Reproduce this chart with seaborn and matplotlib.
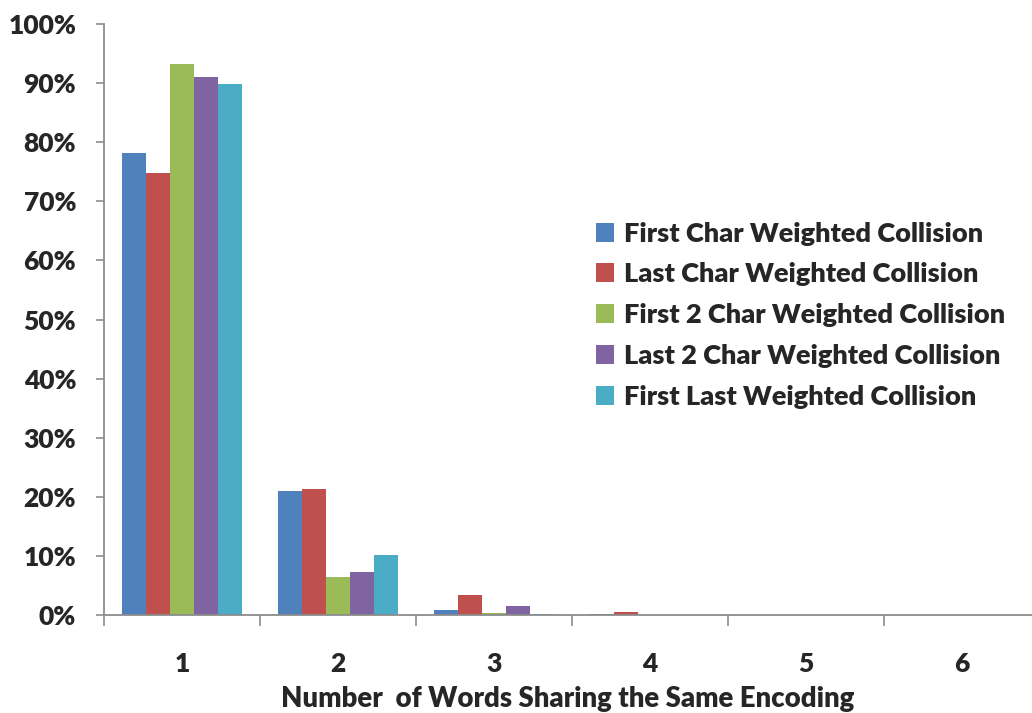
import matplotlib
matplotlib.use("Agg")
import matplotlib.pyplot as plt
import seaborn as sns
import pandas as pd
import numpy as np
from matplotlib.ticker import FixedLocator, PercentFormatter

# Share of words (%) by how many words share the same encoding
groups = ["1", "2", "3", "4", "5", "6"]
first_char = [78.2, 21.0, 0.8, 0.15, 0.0, 0.0]
last_char = [74.8, 21.3, 3.4, 0.45, 0.0, 0.05]
first_2_char = [93.2, 6.4, 0.3, 0.0, 0.0, 0.0]
last_2_char = [91.0, 7.3, 1.6, 0.0, 0.0, 0.0]
first_last = [89.8, 10.2, 0.15, 0.0, 0.0, 0.0]

series_names = [
    "First Char Weighted Collision",
    "Last Char Weighted Collision",
    "First 2 Char Weighted Collision",
    "Last 2 Char Weighted Collision",
    "First Last Weighted Collision",
]
series_values = [first_char, last_char, first_2_char, last_2_char, first_last]
palette = ["#4F81BD", "#C0504D", "#9BBB59", "#8064A2", "#4BACC6"]

rows = []
for name, vals in zip(series_names, series_values):
    for g, v in zip(groups, vals):
        rows.append({"group": g, "method": name, "share": v})
df = pd.DataFrame(rows)

sns.set_theme(style="white")
plt.rcParams["font.family"] = ["Lato", "DejaVu Sans"]
plt.rcParams["font.weight"] = "bold"

fig = plt.figure(figsize=(10.32, 7.13), dpi=100)
ax = fig.add_axes([104 / 1032, 98 / 713, 928 / 1032, 591 / 713])

sns.barplot(data=df, x="group", y="share", hue="method", hue_order=series_names,
            palette=palette, width=0.77, saturation=1, ax=ax, linewidth=0,
            errorbar=None)

ax.set_ylim(0, 100)
ax.set_xlim(-0.5, -0.5 + 928 / 156)
ax.yaxis.set_major_locator(FixedLocator(np.arange(0, 101, 10)))
ax.yaxis.set_major_formatter(PercentFormatter(decimals=0))

spine_color = "#8C8C8C"
for side in ["top", "right"]:
    ax.spines[side].set_visible(False)
for side in ["left", "bottom"]:
    ax.spines[side].set_color(spine_color)
    ax.spines[side].set_linewidth(1.3)

ax.tick_params(axis="y", which="major", direction="out", length=6, width=1.2,
               color=spine_color, left=True, pad=14, labelsize=19)
ax.tick_params(axis="x", which="major", length=0, pad=27, labelsize=19)
ax.xaxis.set_minor_locator(FixedLocator(np.arange(-0.5, 6.0, 1.0)))
ax.tick_params(axis="x", which="minor", direction="out", length=8, width=1.2,
               color=spine_color, bottom=True)
for lab in ax.get_xticklabels() + ax.get_yticklabels():
    lab.set_fontweight("heavy")

ax.set_ylabel("")
ax.set_xlabel("Number  of Words Sharing the Same Encoding", fontsize=19.8,
              fontweight="heavy", labelpad=7)

leg = ax.legend(loc="upper left", bbox_to_anchor=(0.518, 0.684), frameon=False,
                fontsize=19.5, handlelength=0.7, handleheight=0.7,
                handletextpad=0.35, labelspacing=0.62, borderaxespad=0)
for t in leg.get_texts():
    t.set_fontweight("heavy")

fig.savefig("out.png", dpi=100)
